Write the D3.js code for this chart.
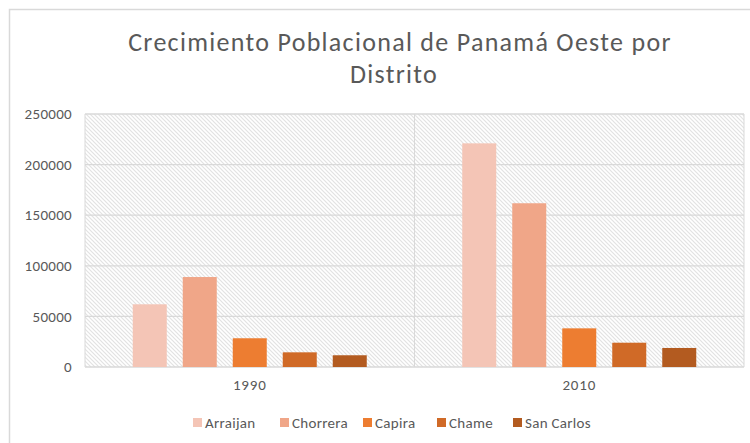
<!DOCTYPE html>
<html>
<head>
<meta charset="utf-8">
<script src="https://d3js.org/d3.v7.min.js"></script>
<style>
  body { margin: 0; background: #fff; }
  text { font-family: Carlito, "Open Sans", "Liberation Sans", sans-serif; fill: #595959; }
</style>
</head>
<body>
<svg id="vis" width="750" height="443"></svg>
<script>
    // data
    var years = ["1990", "2010"]
    var districts = ["Arraijan", "Chorrera", "Capira", "Chame", "San Carlos"]
    var pop1990 = [61950, 88900, 28400, 14500, 11600]
    var pop2010 = [221000, 161800, 38200, 24000, 18800]
    var yTicks = [0, 50000, 100000, 150000, 200000, 250000]
    var colors = ["#f4c5b6", "#f0a688", "#ed7d31", "#d06a27", "#b35b20"]

    var values = { "1990": pop1990, "2010": pop2010 }

    var svg = d3.select("#vis")

    // outer chart border (only top/left visible in the crop)
    svg.append("rect")
        .attr("x", 9.5).attr("y", 9.5)
        .attr("width", 800).attr("height", 500)
        .attr("fill", "none")
        .attr("stroke", "#d9d9d9")
        .attr("stroke-width", 1.5)

    // hatch pattern for plot area
    var defs = svg.append("defs")
    var pat = defs.append("pattern")
        .attr("id", "hatch")
        .attr("patternUnits", "userSpaceOnUse")
        .attr("width", 4).attr("height", 4)
    pat.append("rect").attr("width", 4).attr("height", 4).attr("fill", "#fff")
    pat.append("path")
        .attr("d", "M-1,-1 L5,5 M-1,3 L1,5 M3,-1 L5,1")
        .attr("stroke", "#e2e2e2")
        .attr("stroke-width", 1.2)

    var pLeft = 85, pRight = 744, pTop = 114, pBottom = 367

    var x0 = d3.scaleBand().domain(years).range([pLeft, pRight])
    var bw = x0.bandwidth()
    var x1 = d3.scaleBand().domain(districts)
        .range([bw / 2 - 125, bw / 2 + 125])
        .paddingInner(0.32).paddingOuter(0.16)
    var y = d3.scaleLinear().domain([0, 250000]).range([pBottom, pTop])

    svg.append("rect")
        .attr("x", pLeft).attr("y", pTop)
        .attr("width", pRight - pLeft).attr("height", pBottom - pTop)
        .attr("fill", "url(#hatch)")

    // horizontal gridlines
    svg.append("g").selectAll("line")
        .data(yTicks)
        .enter().append("line")
        .attr("x1", pLeft).attr("x2", pRight)
        .attr("y1", function(d) { return y(d) }).attr("y2", function(d) { return y(d) })
        .attr("stroke", "#d9d9d9")
        .attr("stroke-width", 1.3)

    // vertical category separators
    var seps = [pLeft, x0("2010"), pRight]
    svg.append("g").selectAll("line")
        .data(seps)
        .enter().append("line")
        .attr("x1", function(d) { return d }).attr("x2", function(d) { return d })
        .attr("y1", pTop).attr("y2", pBottom)
        .attr("stroke", "#d9d9d9")
        .attr("stroke-width", 1)

    // y axis labels
    svg.append("g").selectAll("text")
        .data(yTicks)
        .enter().append("text")
        .attr("x", 72)
        .attr("y", function(d) { return y(d) })
        .attr("dy", "0.35em")
        .attr("text-anchor", "end")
        .style("font-size", "15px")
        .style("letter-spacing", "0.3px")
        .text(function(d) { return d })

    // bars
    var groups = svg.append("g").selectAll("g")
        .data(years)
        .enter().append("g")
        .attr("transform", function(d) { return "translate(" + x0(d) + ",0)" })

    groups.selectAll("rect")
        .data(function(yr) { return districts.map(function(k, i) { return { key: k, i: i, v: values[yr][i] } }) })
        .enter().append("rect")
        .attr("x", function(d) { return x1(d.key) })
        .attr("width", x1.bandwidth())
        .attr("y", function(d) { return y(d.v) })
        .attr("height", function(d) { return pBottom - y(d.v) })
        .attr("fill", function(d) { return colors[d.i] })

    // x labels
    svg.append("g").selectAll("text")
        .data(years)
        .enter().append("text")
        .attr("x", function(d) { return x0(d) + bw / 2 })
        .attr("y", 390)
        .attr("text-anchor", "middle")
        .style("font-size", "15px")
        .style("letter-spacing", "0.8px")
        .text(function(d) { return d })

    // title
    var title = svg.append("text")
        .attr("text-anchor", "middle")
        .style("font-size", "26px")
        .style("letter-spacing", "1.3px")
    title.append("tspan").attr("x", 400).attr("y", 51).text("Crecimiento  Poblacional de Panamá Oeste por")
    title.append("tspan").attr("x", 394).attr("y", 83).text("Distrito")

    // legend
    var legX = [193, 280, 363, 437, 513]
    var leg = svg.append("g").selectAll("g")
        .data(districts)
        .enter().append("g")
        .attr("transform", function(d, i) { return "translate(" + legX[i] + ",418)" })
    leg.append("rect")
        .attr("width", 9).attr("height", 9)
        .attr("fill", function(d, i) { return colors[i] })
    leg.append("text")
        .attr("x", 12).attr("y", 9.5)
        .style("font-size", "15px")
        .style("letter-spacing", "0.3px")
        .text(function(d) { return d })
</script>
</body>
</html>
